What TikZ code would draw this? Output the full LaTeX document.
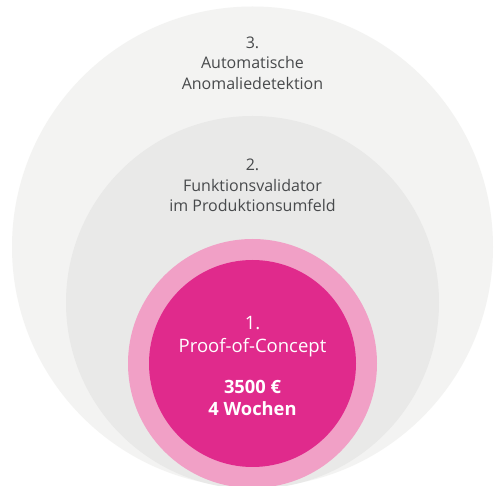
\documentclass[tikz,border=0pt]{standalone}
\usepackage{fontspec}
\setmainfont{Open Sans}
\definecolor{outerbg}{RGB}{243,243,242}
\definecolor{midbg}{RGB}{233,233,232}
\definecolor{ringpink}{RGB}{241,160,198}
\definecolor{magentac}{RGB}{224,42,140}
\definecolor{txtgrey}{RGB}{72,74,76}
\tikzset{
  greylabel/.style={text=txtgrey, align=center, font=\fontsize{16}{20.5}\selectfont, inner sep=0pt},
  whitelabel/.style={text=white, align=center, font=\fontsize{18.5}{23}\selectfont, inner sep=0pt},
  boldlabel/.style={text=white, align=center, font=\fontsize{18.3}{22}\selectfont\bfseries, inner sep=0pt}
}
\begin{document}
\begin{tikzpicture}[x=1pt,y=-1pt]
\useasboundingbox (0,0) rectangle (496,486);
\clip (0,0) rectangle (496,486);
\fill[white] (0,0) rectangle (496,486);
\fill[outerbg] (252.5,247) circle (240.5);
\fill[midbg] (252.5,302.5) circle (186.5);
\fill[ringpink] (252.5,363.5) circle (124.5);
\fill[magentac] (252.5,363.5) circle (103.5);
\node[greylabel] (l3) at (252.5,63) {3.\\Automatische\\Anomaliedetektion};
\node[greylabel] (l2) at (252.5,185.5) {2.\\Funktionsvalidator\\im Produktionsumfeld};
\node[whitelabel] (l1) at (252.5,336.5) {1.\\Proof-of-Concept};
\node[boldlabel] (l1b) at (252.5,398) {3500 €\\4 Wochen};
\end{tikzpicture}
\end{document}
